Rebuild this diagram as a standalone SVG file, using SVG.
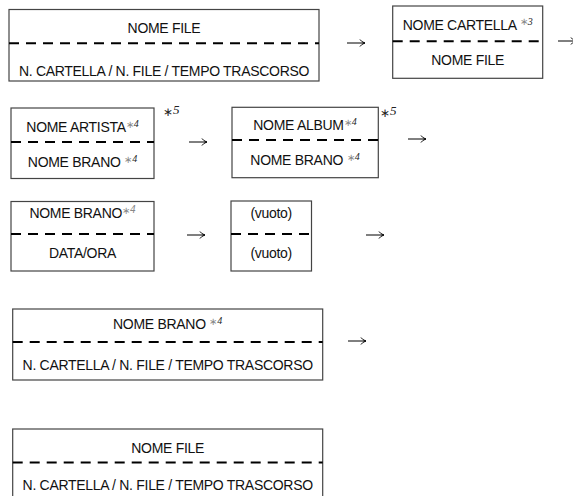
<svg xmlns="http://www.w3.org/2000/svg" width="573" height="496" viewBox="0 0 573 496">
<style>
  .box { fill: #fff; stroke: #444; stroke-width: 1.2; }
  .dash { stroke: #000; stroke-width: 2; stroke-dasharray: 10 7; fill: none; }
  .t { font-family: "Liberation Sans", Arial, sans-serif; font-size: 14px; letter-spacing: -0.3px; fill: #111; text-anchor: middle; }
  .ast { fill: #888; font-size: 10px; letter-spacing: 0; }
  .sup { font-family: "Liberation Serif", "Times New Roman", serif; font-style: italic; font-size: 10px; fill: #222; letter-spacing: 0; }
  .big { font-family: "Liberation Serif", "Times New Roman", serif; font-size: 12px; fill: #222; }
  .arr { stroke: #000; stroke-width: 1; fill: none; }
</style>
<rect width="573" height="496" fill="#fff"/>

<g id="box1">
  <rect class="box" x="9" y="9.5" width="310" height="71.5"/>
  <line class="dash" x1="9" y1="43.3" x2="319" y2="43.3"/>
  <text class="t" x="164" y="33">NOME FILE</text>
  <text class="t" x="164" y="76">N. CARTELLA / N. FILE / TEMPO TRASCORSO</text>
</g>

<g id="box2">
  <rect class="box" x="392.7" y="6" width="150" height="72.3"/>
  <line class="dash" x1="392.7" y1="41.3" x2="542.7" y2="41.3"/>
  <text class="t" x="467.7" y="30">NOME CARTELLA <tspan class="ast" dy="-5">∗</tspan><tspan class="sup">3</tspan></text>
  <text class="t" x="467.7" y="65">NOME FILE</text>
</g>

<g id="boxA">
  <rect class="box" x="11" y="108" width="143" height="70.5"/>
  <line class="dash" x1="11" y1="142" x2="154" y2="142"/>
  <text class="t" x="82.5" y="132">NOME ARTISTA<tspan class="ast" dy="-4">∗</tspan><tspan class="sup" dy="-1.5">4</tspan></text>
  <text class="t" x="82.5" y="167">NOME BRANO <tspan class="ast" dy="-4">∗</tspan><tspan class="sup" dy="-1.5">4</tspan></text>
  <text class="big" x="163" y="116">∗<tspan font-style="italic" font-size="13" dy="-2">5</tspan></text>
</g>

<g id="boxB">
  <rect class="box" x="232" y="107.3" width="146.3" height="70.4"/>
  <line class="dash" x1="232" y1="140" x2="378.3" y2="140"/>
  <text class="t" x="305" y="130">NOME ALBUM<tspan class="ast" dy="-4">∗</tspan><tspan class="sup" dy="-1.5">4</tspan></text>
  <text class="t" x="305" y="165">NOME BRANO <tspan class="ast" dy="-4">∗</tspan><tspan class="sup" dy="-1.5">4</tspan></text>
  <text class="big" x="380" y="117">∗<tspan font-style="italic" font-size="13" dy="-2">5</tspan></text>
</g>

<g id="boxC">
  <rect class="box" x="11" y="201.5" width="143" height="69.5"/>
  <line class="dash" x1="11" y1="234" x2="154" y2="234"/>
  <text class="t" x="82.5" y="218">NOME BRANO<tspan class="ast" dy="-4">∗</tspan><tspan class="ast" font-style="italic" dy="-1">4</tspan></text>
  <text class="t" x="82.5" y="258">DATA/ORA</text>
</g>

<g id="boxD">
  <rect class="box" x="231" y="201" width="80.5" height="70"/>
  <line class="dash" x1="231" y1="234" x2="311.5" y2="234"/>
  <text class="t" x="271.2" y="218">(vuoto)</text>
  <text class="t" x="271.2" y="258">(vuoto)</text>
</g>

<g id="box4">
  <rect class="box" x="12.7" y="309" width="310" height="71"/>
  <line class="dash" x1="12.7" y1="342" x2="322.7" y2="342"/>
  <text class="t" x="167.7" y="329">NOME BRANO <tspan class="ast" dy="-4">∗</tspan><tspan class="sup" dy="-1.5">4</tspan></text>
  <text class="t" x="167.7" y="370">N. CARTELLA / N. FILE / TEMPO TRASCORSO</text>
</g>

<g id="box5">
  <rect class="box" x="12.7" y="429" width="310" height="80"/>
  <line class="dash" x1="12.7" y1="462.5" x2="322.7" y2="462.5"/>
  <text class="t" x="167.7" y="453">NOME FILE</text>
  <text class="t" x="167.7" y="490">N. CARTELLA / N. FILE / TEMPO TRASCORSO</text>
</g>

<g id="connectors">
  <path class="arr" d="M347 43H365M360 39.5Q361.5 42 365 43Q361.5 44 360 46.5"/>
  <path class="arr" d="M558 41H576M571 37.5Q572.5 40 576 41Q572.5 42 571 44.5"/>
  <path class="arr" d="M189 142H207M202 138.5Q203.5 141 207 142Q203.5 143 202 145.5"/>
  <path class="arr" d="M408 139H426M421 135.5Q422.5 138 426 139Q422.5 140 421 142.5"/>
  <path class="arr" d="M187 235H205M200 231.5Q201.5 234 205 235Q201.5 236 200 238.5"/>
  <path class="arr" d="M366 235H384M379 231.5Q380.5 234 384 235Q380.5 236 379 238.5"/>
  <path class="arr" d="M348 341H366M361 337.5Q362.5 340 366 341Q362.5 342 361 344.5"/>
</g>
</svg>
